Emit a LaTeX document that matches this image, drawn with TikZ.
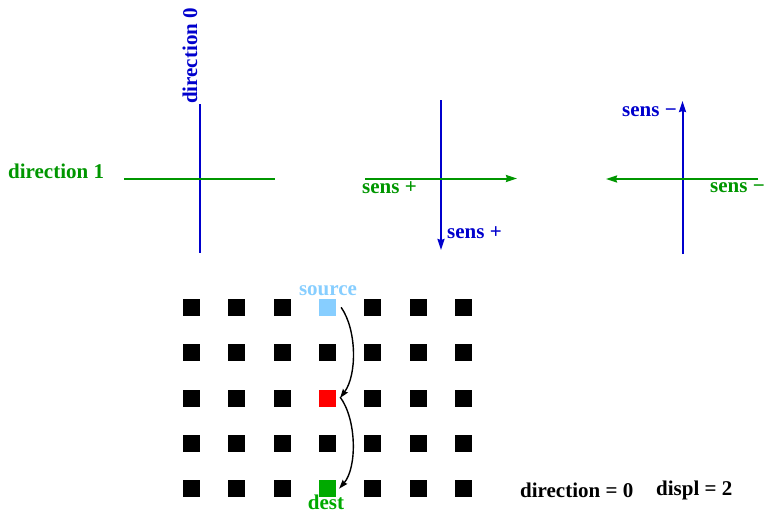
\documentclass[tikz,border=0pt]{standalone}
\usepackage{fontspec}
\setmainfont{Liberation Serif}
\usetikzlibrary{arrows.meta}
\definecolor{dblue}{RGB}{0,0,205}
\definecolor{dgreen}{RGB}{0,150,0}
\definecolor{srcblue}{RGB}{135,206,255}
\definecolor{dstgreen}{RGB}{0,170,0}
\begin{document}
\begin{tikzpicture}[x=1pt,y=-1pt,
  lbl/.style={font=\fontsize{21}{25}\selectfont\bfseries, inner sep=0pt},
  axis/.style={line width=2pt},
  tip/.style={-{Stealth[length=11pt,width=7pt,inset=1pt]}},
  cell/.style={draw=none, fill=black, minimum size=17pt, inner sep=0pt},
  mover/.style={line width=1.4pt, -{Stealth[length=9pt,width=6pt,inset=1pt]}}]
\useasboundingbox (0,0) rectangle (766,512);
% cross 1
\coordinate (v1t) at (200,104); \coordinate (v1b) at (200,253);
\coordinate (h1l) at (124,179); \coordinate (h1r) at (275,179);
\draw[axis,dblue] (v1t) -- (v1b);
\draw[axis,dgreen] (h1l) -- (h1r);
\node[lbl,dblue,rotate=90,anchor=base west] (d0) at (197,104) {direction 0};
\node[lbl,dgreen,anchor=base west] (d1) at (8,178) {direction 1};
% cross 2
\coordinate (v2t) at (441,100); \coordinate (v2b) at (441,250);
\coordinate (h2l) at (365,178.5); \coordinate (h2r) at (517,178.5);
\draw[axis,dblue,tip] (v2t) -- (v2b);
\draw[axis,dgreen,tip] (h2l) -- (h2r);
\node[lbl,dgreen,anchor=west] (sp1) at (362,188) {sens +};
\node[lbl,dblue,anchor=west] (sp0) at (447,233) {sens +};
% cross 3
\coordinate (v3t) at (682.5,101); \coordinate (v3b) at (682.5,254);
\coordinate (h3l) at (606,179); \coordinate (h3r) at (758,179);
\draw[axis,dblue,tip] (v3b) -- (v3t);
\draw[axis,dgreen,tip] (h3r) -- (h3l);
\node[lbl,dblue,anchor=east] (sm0) at (677,112) {sens −};
\node[lbl,dgreen,anchor=west] (sm1) at (710,188) {sens −};
% grid
\foreach \i [evaluate=\i as \x using 191.5+45.3*(\i-1)] in {1,...,7}{
  \foreach \j [evaluate=\j as \y using 307.3+45.35*(\j-1)] in {1,...,5}{
    \node[cell] (c-\i-\j) at (\x,\y) {};
  }
}
\node[cell,fill=srcblue] (src) at (c-4-1) {};
\node[cell,fill=red] (mid) at (c-4-3) {};
\node[cell,fill=dstgreen] (dst) at (c-4-5) {};
\node[lbl,srcblue] (srclbl) at (328,291) {source};
\node[lbl,dstgreen,anchor=base] (dstlbl) at (326,509) {dest};
\draw[mover] ([xshift=5pt]src.east) .. controls (357,330) and (357,375) .. ([xshift=4pt]mid.east);
\draw[mover] ([xshift=4pt,yshift=1pt]mid.east) .. controls (357,420) and (357,468) .. ([xshift=3pt]dst.east);
\node[lbl,anchor=west] (dir) at (520,490) {direction = 0};
\node[lbl,anchor=west] (disp) at (656,490) {displ = 2};
\end{tikzpicture}
\end{document}
